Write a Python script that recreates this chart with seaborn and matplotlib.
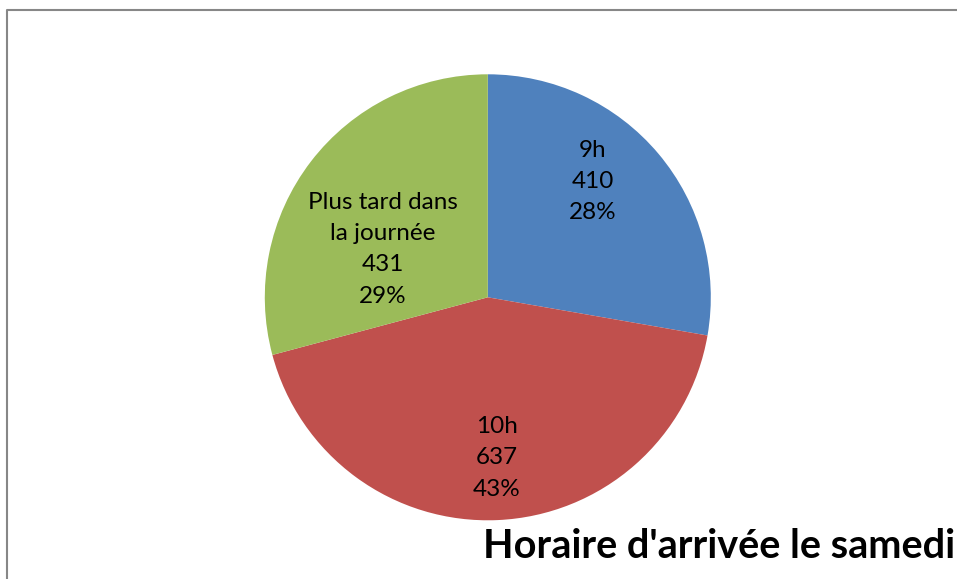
import matplotlib
matplotlib.use("Agg")
import matplotlib.pyplot as plt
from matplotlib.lines import Line2D
import seaborn as sns

# Arrival times on Saturday
categories = ["9h", "10h", "Plus tard dans\nla journée"]
counts = [410, 637, 431]
colors = ["#4F81BD", "#C0504D", "#9BBB59"]
title = "Horaire d'arrivée le samedi"

sns.set_theme(style="white")
plt.rcParams["font.family"] = ["Lato", "DejaVu Sans"]

W, H = 957, 579
fig = plt.figure(figsize=(W / 100, H / 100), dpi=100)
ax = fig.add_axes([0, 0, 1, 1])

cx, cy, r = 487.8, H - 297.3, 223
wedges, _ = ax.pie(counts, colors=colors, startangle=90, counterclock=False,
                   center=(cx, cy), radius=r, frame=True,
                   wedgeprops=dict(linewidth=0))
ax.set_xlim(0, W)
ax.set_ylim(0, H)
ax.set_aspect("equal")
ax.axis("off")

# Data labels inside each slice (offsets in radius units)
offsets = [(0.47, 0.52), (0.04, -0.72), (-0.47, 0.215)]
total = sum(counts)
for cat, n, (dx, dy) in zip(categories, counts, offsets):
    ax.text(cx + dx * r, cy + dy * r, f"{cat}\n{n}\n{round(100 * n / total)}%",
            ha="center", va="center", fontsize=17.5, linespacing=1.6,
            color="black")

# Chart area frame (left and top edges)
fig.add_artist(Line2D([7.5 / W, 7.5 / W, 1.0], [0.0, 1 - 9.5 / H, 1 - 9.5 / H],
                      transform=fig.transFigure, color="#878787", linewidth=1.5))

fig.text(483 / W, 1 - 558 / H, title, ha="left", va="baseline",
         fontsize=28.5, fontweight="bold", color="black")

fig.savefig("out.png", dpi=100)
